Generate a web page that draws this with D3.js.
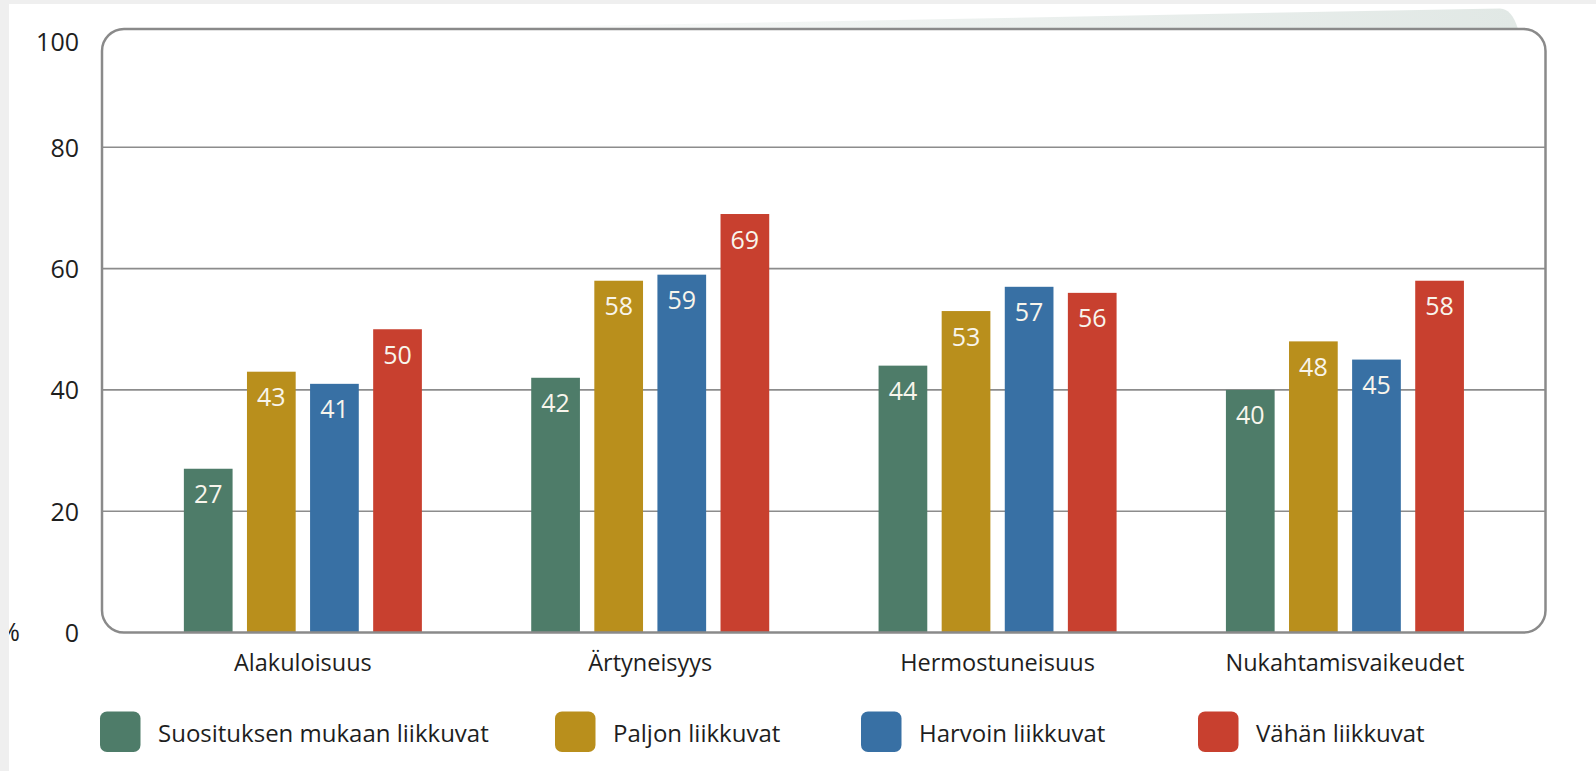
<!DOCTYPE html>
<html>
<head>
<meta charset="utf-8">
<script src="https://cdn.jsdelivr.net/npm/d3@7"></script>
<style>
  html, body { margin: 0; padding: 0; background: #efefef; }
  svg { display: block; }
  text { font-family: "Open Sans", "Noto Sans", sans-serif; }
</style>
</head>
<body>
<svg id="chart" width="1596" height="771"></svg>
<script>
// ---- data ----
const categories = ["Alakuloisuus", "Ärtyneisyys", "Hermostuneisuus", "Nukahtamisvaikeudet"];
const seriesNames = ["Suosituksen mukaan liikkuvat", "Paljon liikkuvat", "Harvoin liikkuvat", "Vähän liikkuvat"];
const suosituksenMukaan = [27, 42, 44, 40];
const paljon = [43, 58, 53, 48];
const harvoin = [41, 59, 57, 45];
const vahan = [50, 69, 56, 58];
const yTicks = [0, 20, 40, 60, 80, 100];
const seriesColors = ["#4e7c69", "#b98f1c", "#3870a4", "#c8402f"];

const seriesValues = [suosituksenMukaan, paljon, harvoin, vahan];
const table = categories.map((c, i) => ({
  category: c,
  values: seriesNames.map((s, j) => ({ series: s, value: seriesValues[j][i] }))
}));

// ---- layout ----
const svg = d3.select("#chart");
const W = 1596, H = 771;
const frame = { left: 102, right: 1545.5, top: 29, bottom: 632.5, r: 22 };

svg.append("rect").attr("width", W).attr("height", H).attr("fill", "#efefef");
svg.append("rect").attr("x", 9).attr("y", 4).attr("width", W - 9).attr("height", H - 4).attr("fill", "#ffffff");

const defs = svg.append("defs");
defs.append("clipPath").attr("id", "pageClip")
  .append("rect").attr("x", 9).attr("y", 4).attr("width", W - 9).attr("height", H - 4);
const grad = defs.append("linearGradient").attr("id", "shade").attr("x1", "0").attr("x2", "1").attr("y1", "0").attr("y2", "0");
grad.append("stop").attr("offset", "0").attr("stop-color", "#e2e9e6").attr("stop-opacity", 0);
grad.append("stop").attr("offset", "0.45").attr("stop-color", "#e2e9e6").attr("stop-opacity", 0.6);
grad.append("stop").attr("offset", "1").attr("stop-color", "#e1e8e5").attr("stop-opacity", 1);

// decorative shading above the frame
svg.append("path")
  .attr("d", "M420,29 L1500,8.5 Q1512,9 1518,29 Z")
  .attr("fill", "url(#shade)");

const y = d3.scaleLinear().domain([0, 100]).range([632.5, 26]);
const x0 = d3.scaleBand().domain(categories).range([129.2, 1518.6]).padding(0);
const x1 = d3.scaleBand().domain(seriesNames).range([-126.2, 126.2]).paddingInner(0.228).paddingOuter(0.114);
const color = d3.scaleOrdinal().domain(seriesNames).range(seriesColors);

// frame background
svg.append("rect")
  .attr("x", frame.left).attr("y", frame.top)
  .attr("width", frame.right - frame.left).attr("height", frame.bottom - frame.top)
  .attr("rx", frame.r).attr("fill", "#ffffff");

// gridlines
svg.append("g").selectAll("line")
  .data(yTicks.filter(t => t > 0 && t < 100))
  .join("line")
  .attr("x1", frame.left).attr("x2", frame.right)
  .attr("y1", d => y(d)).attr("y2", d => y(d))
  .attr("stroke", "#8c8c8c").attr("stroke-width", 1.6);

// bars
const groups = svg.append("g").selectAll("g")
  .data(table).join("g")
  .attr("transform", d => `translate(${x0(d.category) + x0.bandwidth() / 2},0)`);

groups.selectAll("rect")
  .data(d => d.values).join("rect")
  .attr("x", d => x1(d.series))
  .attr("y", d => y(d.value))
  .attr("width", x1.bandwidth())
  .attr("height", d => y(0) - y(d.value))
  .attr("fill", d => color(d.series));

groups.selectAll("text")
  .data(d => d.values).join("text")
  .attr("x", d => x1(d.series) + x1.bandwidth() / 2)
  .attr("y", d => y(d.value) + 34.5)
  .attr("text-anchor", "middle")
  .attr("font-size", 25)
  .attr("fill", "#f8f5ec")
  .text(d => d.value);

// frame outline
svg.append("rect")
  .attr("x", frame.left).attr("y", frame.top)
  .attr("width", frame.right - frame.left).attr("height", frame.bottom - frame.top)
  .attr("rx", frame.r).attr("fill", "none")
  .attr("stroke", "#8a8a8a").attr("stroke-width", 2.5);

// y axis
const yAxis = svg.append("g")
  .attr("transform", `translate(${frame.left},0)`)
  .call(d3.axisLeft(y).tickValues(yTicks).tickSize(0).tickPadding(23).tickFormat(d3.format("d")));
yAxis.select(".domain").remove();
yAxis.selectAll("text")
  .attr("font-size", 25).attr("fill", "#1e1e1e")
  .attr("font-family", '"Open Sans", sans-serif')
  .attr("dy", d => d === 100 ? "1.25em" : "0.36em")
  .attr("transform", d => d === 100 ? "translate(0,-7)" : null);

// % unit label (cropped at the page edge)
svg.append("text")
  .attr("clip-path", "url(#pageClip)")
  .attr("x", 20).attr("y", y(0) + 8)
  .attr("text-anchor", "end")
  .attr("font-size", 25).attr("fill", "#1e1e1e")
  .text("%");

// x axis category labels
const xAxis = svg.append("g")
  .attr("transform", `translate(0,${frame.bottom})`)
  .call(d3.axisBottom(x0).tickSize(0).tickPadding(22));
xAxis.select(".domain").remove();
xAxis.selectAll("text")
  .attr("font-size", 23.5).attr("fill", "#1e1e1e")
  .attr("font-family", '"Open Sans", sans-serif')
  .attr("dy", "0.71em");

// legend
const legendSquareX = [100, 555, 861, 1198];
const legend = svg.append("g").selectAll("g")
  .data(seriesNames).join("g")
  .attr("transform", (d, i) => `translate(${legendSquareX[i]},711.5)`);
legend.append("rect")
  .attr("width", 40.5).attr("height", 40.5).attr("rx", 7)
  .attr("fill", d => color(d));
legend.append("text")
  .attr("x", 58).attr("y", 30)
  .attr("font-size", 24).attr("fill", "#1e1e1e")
  .text(d => d);
</script>
</body>
</html>
